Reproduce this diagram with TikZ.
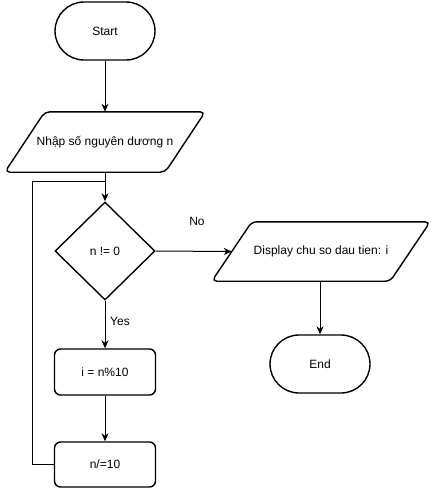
\documentclass[tikz,border=0pt]{standalone}
\usepackage{fontspec}
\setmainfont{Liberation Sans}
\usetikzlibrary{shapes.geometric,arrows.meta}
\tikzset{
  x=1pt, y=-1pt,
  every node/.style={font=\fontsize{12}{14}\selectfont, inner sep=0pt},
  shapebase/.style={draw, line width=1.4pt, fill=white},
  terminal/.style={shapebase, rectangle, rounded corners=29pt, minimum width=100pt, minimum height=58pt},
  procbox/.style={shapebase, rectangle, rounded corners=6pt, minimum width=101pt, minimum height=46pt},
  decision/.style={shapebase, diamond, minimum width=100pt, minimum height=98pt},
  iocore/.style={rectangle, minimum height=60pt},
  ioline/.style={draw, line width=1.4pt, rounded corners=5pt},
  conn/.style={line width=1pt},
  arrow/.style={conn, -{Stealth[length=8pt,width=7pt,inset=2.5pt]}},
  lbl/.style={}
}
\begin{document}
\begin{tikzpicture}
\useasboundingbox (0,0) rectangle (431,488);
\node[terminal] (start) at (105,31) {Start};
\node[iocore, minimum width=160pt] (din) at (105,142) {Nhập số nguyên dương n};
\draw[ioline] (din.north) -- ([xshift=20pt]din.north east) -- ([xshift=-20pt]din.south east)
   -- ([xshift=-20pt]din.south west) -- ([xshift=20pt]din.north west) -- cycle;
\node[decision] (dec) at (105,251) {n != 0};
\node[procbox] (a1) at (105,372) {i = n\%10};
\node[procbox, minimum height=45pt] (a2) at (105,464.5) {n/=10};
\node[iocore, minimum width=178pt, minimum height=59pt] (disp) at (321,251.5) {Display chu so dau tien: i};
\draw[ioline] (disp.north) -- ([xshift=20pt]disp.north east) -- ([xshift=-20pt]disp.south east)
   -- ([xshift=-20pt]disp.south west) -- ([xshift=20pt]disp.north west) -- cycle;
\node[terminal] (end) at (320,364) {End};
\coordinate (join) at (105,181);
\draw[arrow] (start) -- (din);
\draw[arrow] (din) -- (dec);
\draw[conn] (a2.west) -- ++(-21,0) |- (join);
\draw[arrow] (dec) -- (a1);
\draw[arrow] (a1) -- (a2);
\draw[arrow] (dec.east) -- (disp.west);
\draw[arrow] (disp.south -| end.north) -- (end);
\node[lbl] (no) at (197,221) {No};
\node[lbl] (yes) at (120,321) {Yes};
\end{tikzpicture}
\end{document}
